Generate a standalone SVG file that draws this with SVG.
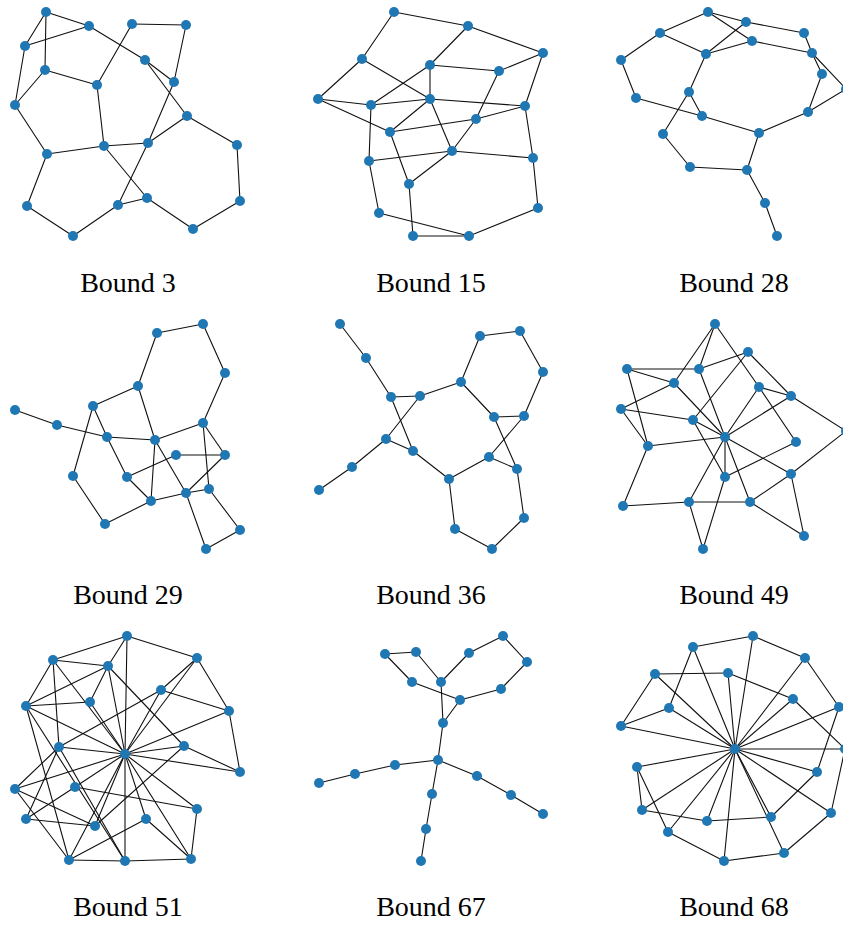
<svg xmlns="http://www.w3.org/2000/svg" width="843" height="925" viewBox="0 0 843 925">
<style>
.edges line{stroke:#111;stroke-width:1.1;stroke-linecap:round}
.node circle{fill:#1f77b4}
.lbl{font-family:"Liberation Serif","DejaVu Serif",serif;font-size:28px;fill:#000;text-anchor:middle}
</style>
<rect width="843" height="925" fill="#fff"/>
<!-- Panel 1 -->
<g id="edges-p1" class="edges">
<line x1="46" y1="12" x2="89" y2="26"/><line x1="46" y1="12" x2="25" y2="46"/><line x1="46" y1="12" x2="45" y2="70"/>
<line x1="25" y1="46" x2="89" y2="26"/><line x1="25" y1="46" x2="15" y2="105"/><line x1="45" y1="70" x2="15" y2="105"/>
<line x1="45" y1="70" x2="97" y2="85"/><line x1="89" y1="26" x2="145" y2="60"/><line x1="145" y1="60" x2="174" y2="82"/>
<line x1="145" y1="60" x2="187" y2="116"/><line x1="132" y1="24" x2="186" y2="25"/><line x1="132" y1="24" x2="97" y2="85"/>
<line x1="186" y1="25" x2="174" y2="82"/><line x1="174" y1="82" x2="148" y2="143"/><line x1="148" y1="143" x2="118" y2="205"/>
<line x1="15" y1="105" x2="47" y2="154"/><line x1="47" y1="154" x2="104" y2="146"/><line x1="104" y1="146" x2="148" y2="143"/>
<line x1="104" y1="146" x2="97" y2="85"/><line x1="104" y1="146" x2="147" y2="198"/><line x1="148" y1="143" x2="187" y2="116"/>
<line x1="187" y1="116" x2="237" y2="145"/><line x1="237" y1="145" x2="240" y2="201"/><line x1="240" y1="201" x2="193" y2="229"/>
<line x1="193" y1="229" x2="147" y2="198"/><line x1="147" y1="198" x2="118" y2="205"/><line x1="118" y1="205" x2="73" y2="236"/>
<line x1="73" y1="236" x2="27" y2="206"/><line x1="27" y1="206" x2="47" y2="154"/>
</g>
<g id="nodes-p1" class="node">
<g id="p1-a"><circle cx="46" cy="12" r="5"/></g><g id="p1-b"><circle cx="89" cy="26" r="5"/></g><g id="p1-c"><circle cx="25" cy="46" r="5"/></g>
<g id="p1-d"><circle cx="45" cy="70" r="5"/></g><g id="p1-e"><circle cx="132" cy="24" r="5"/></g><g id="p1-f"><circle cx="186" cy="25" r="5"/></g>
<g id="p1-g"><circle cx="145" cy="60" r="5"/></g><g id="p1-h"><circle cx="174" cy="82" r="5"/></g><g id="p1-i"><circle cx="97" cy="85" r="5"/></g>
<g id="p1-j"><circle cx="15" cy="105" r="5"/></g><g id="p1-k"><circle cx="187" cy="116" r="5"/></g><g id="p1-l"><circle cx="237" cy="145" r="5"/></g>
<g id="p1-m"><circle cx="47" cy="154" r="5"/></g><g id="p1-n"><circle cx="104" cy="146" r="5"/></g><g id="p1-o"><circle cx="148" cy="143" r="5"/></g>
<g id="p1-p"><circle cx="27" cy="206" r="5"/></g><g id="p1-q"><circle cx="118" cy="205" r="5"/></g><g id="p1-r"><circle cx="147" cy="198" r="5"/></g>
<g id="p1-s"><circle cx="240" cy="201" r="5"/></g><g id="p1-t"><circle cx="73" cy="236" r="5"/></g><g id="p1-u"><circle cx="193" cy="229" r="5"/></g>
</g>
<text class="lbl" x="128" y="292">Bound 3</text>
<!-- Panel 2 -->
<g id="edges-p2" class="edges">
<line x1="394" y1="12" x2="468" y2="26"/><line x1="394" y1="12" x2="362" y2="59"/><line x1="468" y1="26" x2="543" y2="53"/>
<line x1="468" y1="26" x2="430" y2="65"/><line x1="430" y1="65" x2="371" y2="105"/><line x1="430" y1="65" x2="499" y2="71"/>
<line x1="430" y1="65" x2="430" y2="99"/><line x1="499" y1="71" x2="543" y2="53"/><line x1="499" y1="71" x2="476" y2="119"/>
<line x1="543" y1="53" x2="525" y2="106"/><line x1="362" y1="59" x2="318" y2="99"/><line x1="362" y1="59" x2="430" y2="99"/>
<line x1="318" y1="99" x2="371" y2="105"/><line x1="318" y1="99" x2="390" y2="132"/><line x1="371" y1="105" x2="430" y2="99"/>
<line x1="430" y1="99" x2="525" y2="106"/><line x1="371" y1="105" x2="369" y2="161"/><line x1="430" y1="99" x2="390" y2="132"/>
<line x1="430" y1="99" x2="452" y2="151"/><line x1="390" y1="132" x2="476" y2="119"/><line x1="476" y1="119" x2="525" y2="106"/>
<line x1="476" y1="119" x2="452" y2="151"/><line x1="390" y1="132" x2="409" y2="184"/><line x1="452" y1="151" x2="409" y2="184"/>
<line x1="369" y1="161" x2="452" y2="151"/><line x1="452" y1="151" x2="533" y2="158"/><line x1="369" y1="161" x2="379" y2="213"/>
<line x1="525" y1="106" x2="533" y2="158"/><line x1="533" y1="158" x2="538" y2="208"/><line x1="538" y1="208" x2="469" y2="236"/>
<line x1="379" y1="213" x2="469" y2="236"/><line x1="413" y1="236" x2="469" y2="236"/><line x1="409" y1="184" x2="413" y2="236"/>
</g>
<g id="nodes-p2" class="node">
<g id="p2-a"><circle cx="394" cy="12" r="5"/></g><g id="p2-b"><circle cx="468" cy="26" r="5"/></g><g id="p2-c"><circle cx="543" cy="53" r="5"/></g>
<g id="p2-d"><circle cx="362" cy="59" r="5"/></g><g id="p2-e"><circle cx="430" cy="65" r="5"/></g><g id="p2-f"><circle cx="499" cy="71" r="5"/></g>
<g id="p2-g"><circle cx="318" cy="99" r="5"/></g><g id="p2-h"><circle cx="371" cy="105" r="5"/></g><g id="p2-i"><circle cx="430" cy="99" r="5"/></g>
<g id="p2-j"><circle cx="525" cy="106" r="5"/></g><g id="p2-k"><circle cx="476" cy="119" r="5"/></g><g id="p2-l"><circle cx="390" cy="132" r="5"/></g>
<g id="p2-m"><circle cx="452" cy="151" r="5"/></g><g id="p2-n"><circle cx="369" cy="161" r="5"/></g><g id="p2-o"><circle cx="533" cy="158" r="5"/></g>
<g id="p2-p"><circle cx="409" cy="184" r="5"/></g><g id="p2-q"><circle cx="379" cy="213" r="5"/></g><g id="p2-r"><circle cx="538" cy="208" r="5"/></g>
<g id="p2-s"><circle cx="413" cy="236" r="5"/></g><g id="p2-t"><circle cx="469" cy="236" r="5"/></g>
</g>
<text class="lbl" x="431" y="292">Bound 15</text>
<!-- Panel 3 -->
<g id="edges-p3" class="edges">
<line x1="708" y1="12" x2="660" y2="33"/><line x1="708" y1="12" x2="746" y2="22"/><line x1="708" y1="12" x2="752" y2="41"/>
<line x1="746" y1="22" x2="804" y2="33"/><line x1="746" y1="22" x2="706" y2="54"/><line x1="804" y1="33" x2="812" y2="53"/>
<line x1="660" y1="33" x2="706" y2="54"/><line x1="660" y1="33" x2="621" y2="60"/><line x1="621" y1="60" x2="636" y2="98"/>
<line x1="706" y1="54" x2="752" y2="41"/><line x1="752" y1="41" x2="812" y2="53"/><line x1="812" y1="53" x2="822" y2="74"/>
<line x1="812" y1="53" x2="846" y2="89"/><line x1="822" y1="74" x2="808" y2="112"/><line x1="846" y1="89" x2="808" y2="112"/>
<line x1="808" y1="112" x2="759" y2="133"/><line x1="706" y1="54" x2="689" y2="92"/><line x1="689" y1="92" x2="702" y2="116"/>
<line x1="689" y1="92" x2="663" y2="134"/><line x1="636" y1="98" x2="702" y2="116"/><line x1="702" y1="116" x2="759" y2="133"/>
<line x1="759" y1="133" x2="747" y2="170"/><line x1="663" y1="134" x2="690" y2="167"/><line x1="690" y1="167" x2="747" y2="170"/>
<line x1="747" y1="170" x2="765" y2="203"/><line x1="765" y1="203" x2="777" y2="236"/>
</g>
<g id="nodes-p3" class="node">
<g id="p3-a"><circle cx="708" cy="12" r="5"/></g><g id="p3-b"><circle cx="746" cy="22" r="5"/></g><g id="p3-c"><circle cx="804" cy="33" r="5"/></g>
<g id="p3-d"><circle cx="660" cy="33" r="5"/></g><g id="p3-e"><circle cx="752" cy="41" r="5"/></g><g id="p3-f"><circle cx="812" cy="53" r="5"/></g>
<g id="p3-g"><circle cx="706" cy="54" r="5"/></g><g id="p3-h"><circle cx="621" cy="60" r="5"/></g><g id="p3-i"><circle cx="822" cy="74" r="5"/></g>
<g id="p3-j"><circle cx="846" cy="89" r="5"/></g><g id="p3-k"><circle cx="689" cy="92" r="5"/></g><g id="p3-l"><circle cx="636" cy="98" r="5"/></g>
<g id="p3-m"><circle cx="808" cy="112" r="5"/></g><g id="p3-n"><circle cx="702" cy="116" r="5"/></g><g id="p3-o"><circle cx="759" cy="133" r="5"/></g>
<g id="p3-p"><circle cx="663" cy="134" r="5"/></g><g id="p3-q"><circle cx="690" cy="167" r="5"/></g><g id="p3-r"><circle cx="747" cy="170" r="5"/></g>
<g id="p3-s"><circle cx="765" cy="203" r="5"/></g><g id="p3-t"><circle cx="777" cy="236" r="5"/></g>
</g>
<text class="lbl" x="734" y="292">Bound 28</text>
<!-- Panel 4 -->
<g id="edges-p4" class="edges">
<line x1="203" y1="324" x2="157" y2="333"/><line x1="203" y1="324" x2="225" y2="373"/><line x1="157" y1="333" x2="138" y2="386"/>
<line x1="225" y1="373" x2="203" y2="423"/><line x1="138" y1="386" x2="93" y2="406"/><line x1="138" y1="386" x2="155" y2="440"/>
<line x1="15" y1="410" x2="57" y2="425"/><line x1="57" y1="425" x2="107" y2="437"/><line x1="93" y1="406" x2="107" y2="437"/>
<line x1="93" y1="406" x2="73" y2="476"/><line x1="107" y1="437" x2="155" y2="440"/><line x1="155" y1="440" x2="203" y2="423"/>
<line x1="107" y1="437" x2="127" y2="477"/><line x1="155" y1="440" x2="151" y2="501"/><line x1="155" y1="440" x2="186" y2="493"/>
<line x1="176" y1="455" x2="225" y2="455"/><line x1="176" y1="455" x2="127" y2="477"/><line x1="127" y1="477" x2="151" y2="501"/>
<line x1="203" y1="423" x2="225" y2="455"/><line x1="203" y1="423" x2="209" y2="489"/><line x1="225" y1="455" x2="186" y2="493"/>
<line x1="151" y1="501" x2="186" y2="493"/><line x1="186" y1="493" x2="209" y2="489"/><line x1="73" y1="476" x2="105" y2="524"/>
<line x1="105" y1="524" x2="151" y2="501"/><line x1="209" y1="489" x2="240" y2="530"/><line x1="240" y1="530" x2="206" y2="549"/>
<line x1="186" y1="493" x2="206" y2="549"/>
</g>
<g id="nodes-p4" class="node">
<g id="p4-a"><circle cx="203" cy="324" r="5"/></g><g id="p4-b"><circle cx="157" cy="333" r="5"/></g><g id="p4-c"><circle cx="225" cy="373" r="5"/></g>
<g id="p4-d"><circle cx="138" cy="386" r="5"/></g><g id="p4-e"><circle cx="93" cy="406" r="5"/></g><g id="p4-f"><circle cx="15" cy="410" r="5"/></g>
<g id="p4-g"><circle cx="57" cy="425" r="5"/></g><g id="p4-h"><circle cx="203" cy="423" r="5"/></g><g id="p4-i"><circle cx="107" cy="437" r="5"/></g>
<g id="p4-j"><circle cx="155" cy="440" r="5"/></g><g id="p4-k"><circle cx="176" cy="455" r="5"/></g><g id="p4-l"><circle cx="225" cy="455" r="5"/></g>
<g id="p4-m"><circle cx="73" cy="476" r="5"/></g><g id="p4-n"><circle cx="127" cy="477" r="5"/></g><g id="p4-o"><circle cx="209" cy="489" r="5"/></g>
<g id="p4-p"><circle cx="186" cy="493" r="5"/></g><g id="p4-q"><circle cx="151" cy="501" r="5"/></g><g id="p4-r"><circle cx="105" cy="524" r="5"/></g>
<g id="p4-s"><circle cx="240" cy="530" r="5"/></g><g id="p4-t"><circle cx="206" cy="549" r="5"/></g>
</g>
<text class="lbl" x="128" y="604">Bound 29</text>
<!-- Panel 5 -->
<g id="edges-p5" class="edges">
<line x1="340" y1="324" x2="366" y2="358"/><line x1="366" y1="358" x2="391" y2="397"/><line x1="391" y1="397" x2="420" y2="396"/>
<line x1="391" y1="397" x2="413" y2="451"/><line x1="420" y1="396" x2="461" y2="382"/><line x1="420" y1="396" x2="386" y2="439"/>
<line x1="386" y1="439" x2="413" y2="451"/><line x1="386" y1="439" x2="352" y2="467"/><line x1="352" y1="467" x2="319" y2="490"/>
<line x1="461" y1="382" x2="480" y2="336"/><line x1="480" y1="336" x2="520" y2="331"/><line x1="520" y1="331" x2="543" y2="372"/>
<line x1="543" y1="372" x2="524" y2="416"/><line x1="461" y1="382" x2="494" y2="417"/><line x1="494" y1="417" x2="524" y2="416"/>
<line x1="494" y1="417" x2="517" y2="469"/><line x1="524" y1="416" x2="489" y2="457"/><line x1="489" y1="457" x2="517" y2="469"/>
<line x1="489" y1="457" x2="449" y2="479"/><line x1="413" y1="451" x2="449" y2="479"/><line x1="449" y1="479" x2="455" y2="529"/>
<line x1="455" y1="529" x2="492" y2="549"/><line x1="492" y1="549" x2="524" y2="518"/><line x1="524" y1="518" x2="517" y2="469"/>
</g>
<g id="nodes-p5" class="node">
<g id="p5-a"><circle cx="340" cy="324" r="5"/></g><g id="p5-b"><circle cx="366" cy="358" r="5"/></g><g id="p5-c"><circle cx="480" cy="336" r="5"/></g>
<g id="p5-d"><circle cx="520" cy="331" r="5"/></g><g id="p5-e"><circle cx="543" cy="372" r="5"/></g><g id="p5-f"><circle cx="461" cy="382" r="5"/></g>
<g id="p5-g"><circle cx="391" cy="397" r="5"/></g><g id="p5-h"><circle cx="420" cy="396" r="5"/></g><g id="p5-i"><circle cx="494" cy="417" r="5"/></g>
<g id="p5-j"><circle cx="524" cy="416" r="5"/></g><g id="p5-k"><circle cx="386" cy="439" r="5"/></g><g id="p5-l"><circle cx="413" cy="451" r="5"/></g>
<g id="p5-m"><circle cx="489" cy="457" r="5"/></g><g id="p5-n"><circle cx="517" cy="469" r="5"/></g><g id="p5-o"><circle cx="352" cy="467" r="5"/></g>
<g id="p5-p"><circle cx="449" cy="479" r="5"/></g><g id="p5-q"><circle cx="319" cy="490" r="5"/></g><g id="p5-r"><circle cx="524" cy="518" r="5"/></g>
<g id="p5-s"><circle cx="455" cy="529" r="5"/></g><g id="p5-t"><circle cx="492" cy="549" r="5"/></g>
</g>
<text class="lbl" x="431" y="604">Bound 36</text>
<!-- Panel 6 -->
<g id="edges-p6" class="edges">
<line x1="715" y1="324" x2="699" y2="369"/><line x1="715" y1="324" x2="674" y2="383"/><line x1="715" y1="324" x2="759" y2="387"/>
<line x1="748" y1="352" x2="699" y2="369"/><line x1="748" y1="352" x2="693" y2="420"/><line x1="748" y1="352" x2="791" y2="396"/>
<line x1="627" y1="369" x2="699" y2="369"/><line x1="627" y1="369" x2="674" y2="383"/><line x1="627" y1="369" x2="648" y2="446"/>
<line x1="674" y1="383" x2="621" y2="409"/><line x1="674" y1="383" x2="725" y2="437"/><line x1="699" y1="369" x2="725" y2="437"/>
<line x1="621" y1="409" x2="693" y2="420"/><line x1="621" y1="409" x2="648" y2="446"/><line x1="693" y1="420" x2="725" y2="437"/>
<line x1="693" y1="420" x2="725" y2="477"/><line x1="759" y1="387" x2="791" y2="396"/><line x1="759" y1="387" x2="725" y2="437"/>
<line x1="759" y1="387" x2="796" y2="442"/><line x1="791" y1="396" x2="725" y2="437"/><line x1="791" y1="396" x2="846" y2="431"/>
<line x1="725" y1="437" x2="648" y2="446"/><line x1="725" y1="437" x2="725" y2="477"/><line x1="725" y1="437" x2="791" y2="474"/>
<line x1="725" y1="437" x2="750" y2="502"/><line x1="725" y1="437" x2="689" y2="502"/><line x1="846" y1="431" x2="791" y2="474"/>
<line x1="796" y1="442" x2="725" y2="477"/><line x1="648" y1="446" x2="623" y2="506"/><line x1="623" y1="506" x2="689" y2="502"/>
<line x1="689" y1="502" x2="750" y2="502"/><line x1="689" y1="502" x2="703" y2="549"/><line x1="725" y1="477" x2="703" y2="549"/>
<line x1="750" y1="502" x2="791" y2="474"/><line x1="750" y1="502" x2="804" y2="536"/><line x1="791" y1="474" x2="804" y2="536"/>
</g>
<g id="nodes-p6" class="node">
<g id="p6-a"><circle cx="715" cy="324" r="5"/></g><g id="p6-b"><circle cx="748" cy="352" r="5"/></g><g id="p6-c"><circle cx="627" cy="369" r="5"/></g>
<g id="p6-d"><circle cx="699" cy="369" r="5"/></g><g id="p6-e"><circle cx="674" cy="383" r="5"/></g><g id="p6-f"><circle cx="759" cy="387" r="5"/></g>
<g id="p6-g"><circle cx="791" cy="396" r="5"/></g><g id="p6-h"><circle cx="621" cy="409" r="5"/></g><g id="p6-i"><circle cx="693" cy="420" r="5"/></g>
<g id="p6-j"><circle cx="725" cy="437" r="5"/></g><g id="p6-k"><circle cx="846" cy="431" r="5"/></g><g id="p6-l"><circle cx="796" cy="442" r="5"/></g>
<g id="p6-m"><circle cx="648" cy="446" r="5"/></g><g id="p6-n"><circle cx="725" cy="477" r="5"/></g><g id="p6-o"><circle cx="791" cy="474" r="5"/></g>
<g id="p6-p"><circle cx="623" cy="506" r="5"/></g><g id="p6-q"><circle cx="689" cy="502" r="5"/></g><g id="p6-r"><circle cx="750" cy="502" r="5"/></g>
<g id="p6-s"><circle cx="804" cy="536" r="5"/></g><g id="p6-t"><circle cx="703" cy="549" r="5"/></g>
</g>
<text class="lbl" x="734" y="604">Bound 49</text>
<!-- Panel 7 -->
<g id="edges-p7" class="edges">
<line x1="127" y1="636" x2="197" y2="658"/><line x1="127" y1="636" x2="53" y2="660"/><line x1="127" y1="636" x2="108" y2="666"/>
<line x1="127" y1="636" x2="125" y2="754"/><line x1="125" y1="754" x2="125" y2="861"/>
<line x1="197" y1="658" x2="229" y2="711"/><line x1="197" y1="658" x2="161" y2="690"/><line x1="197" y1="658" x2="125" y2="754"/>
<line x1="53" y1="660" x2="108" y2="666"/><line x1="53" y1="660" x2="26" y2="706"/><line x1="53" y1="660" x2="59" y2="747"/>
<line x1="53" y1="660" x2="125" y2="754"/><line x1="108" y1="666" x2="90" y2="702"/><line x1="108" y1="666" x2="26" y2="706"/>
<line x1="108" y1="666" x2="125" y2="754"/><line x1="108" y1="666" x2="184" y2="746"/><line x1="161" y1="690" x2="229" y2="711"/>
<line x1="161" y1="690" x2="59" y2="747"/><line x1="161" y1="690" x2="125" y2="754"/><line x1="90" y1="702" x2="26" y2="706"/>
<line x1="90" y1="702" x2="125" y2="754"/><line x1="26" y1="706" x2="125" y2="754"/><line x1="26" y1="706" x2="69" y2="860"/>
<line x1="26" y1="706" x2="125" y2="861"/><line x1="229" y1="711" x2="125" y2="754"/><line x1="229" y1="711" x2="240" y2="772"/>
<line x1="59" y1="747" x2="125" y2="754"/><line x1="59" y1="747" x2="15" y2="789"/><line x1="59" y1="747" x2="26" y2="819"/>
<line x1="59" y1="747" x2="125" y2="861"/><line x1="184" y1="746" x2="125" y2="754"/><line x1="184" y1="746" x2="240" y2="772"/>
<line x1="184" y1="746" x2="95" y2="826"/><line x1="125" y1="754" x2="240" y2="772"/><line x1="125" y1="754" x2="15" y2="789"/>
<line x1="125" y1="754" x2="75" y2="787"/><line x1="125" y1="754" x2="197" y2="809"/><line x1="125" y1="754" x2="95" y2="826"/>
<line x1="125" y1="754" x2="146" y2="819"/><line x1="125" y1="754" x2="69" y2="860"/><line x1="125" y1="754" x2="191" y2="859"/>
<line x1="15" y1="789" x2="95" y2="826"/><line x1="15" y1="789" x2="69" y2="860"/><line x1="75" y1="787" x2="26" y2="819"/>
<line x1="75" y1="787" x2="197" y2="809"/><line x1="26" y1="819" x2="95" y2="826"/><line x1="146" y1="819" x2="69" y2="860"/>
<line x1="146" y1="819" x2="191" y2="859"/><line x1="197" y1="809" x2="191" y2="859"/><line x1="69" y1="860" x2="125" y2="861"/>
<line x1="125" y1="861" x2="191" y2="859"/>
</g>
<g id="nodes-p7" class="node">
<g id="p7-a"><circle cx="127" cy="636" r="5"/></g><g id="p7-b"><circle cx="197" cy="658" r="5"/></g><g id="p7-c"><circle cx="53" cy="660" r="5"/></g>
<g id="p7-d"><circle cx="108" cy="666" r="5"/></g><g id="p7-e"><circle cx="161" cy="690" r="5"/></g><g id="p7-f"><circle cx="90" cy="702" r="5"/></g>
<g id="p7-g"><circle cx="26" cy="706" r="5"/></g><g id="p7-h"><circle cx="229" cy="711" r="5"/></g><g id="p7-i"><circle cx="59" cy="747" r="5"/></g>
<g id="p7-j"><circle cx="184" cy="746" r="5"/></g><g id="p7-k"><circle cx="125" cy="754" r="5"/></g><g id="p7-l"><circle cx="240" cy="772" r="5"/></g>
<g id="p7-m"><circle cx="15" cy="789" r="5"/></g><g id="p7-n"><circle cx="75" cy="787" r="5"/></g><g id="p7-o"><circle cx="197" cy="809" r="5"/></g>
<g id="p7-p"><circle cx="26" cy="819" r="5"/></g><g id="p7-q"><circle cx="95" cy="826" r="5"/></g><g id="p7-r"><circle cx="146" cy="819" r="5"/></g>
<g id="p7-s"><circle cx="69" cy="860" r="5"/></g><g id="p7-t"><circle cx="125" cy="861" r="5"/></g><g id="p7-u"><circle cx="191" cy="859" r="5"/></g>
</g>
<text class="lbl" x="128" y="916">Bound 51</text>
<!-- Panel 8 -->
<g id="edges-p8" class="edges">
<line x1="385" y1="654" x2="416" y2="652"/><line x1="385" y1="654" x2="412" y2="682"/><line x1="416" y1="652" x2="441" y2="682"/>
<line x1="412" y1="682" x2="460" y2="700"/><line x1="469" y1="653" x2="441" y2="682"/><line x1="469" y1="653" x2="503" y2="636"/>
<line x1="503" y1="636" x2="527" y2="662"/><line x1="527" y1="662" x2="501" y2="689"/><line x1="501" y1="689" x2="460" y2="700"/>
<line x1="441" y1="682" x2="443" y2="723"/><line x1="460" y1="700" x2="443" y2="723"/><line x1="443" y1="723" x2="438" y2="760"/>
<line x1="438" y1="760" x2="395" y2="765"/><line x1="395" y1="765" x2="355" y2="774"/><line x1="355" y1="774" x2="319" y2="783"/>
<line x1="438" y1="760" x2="477" y2="776"/><line x1="477" y1="776" x2="511" y2="795"/><line x1="511" y1="795" x2="543" y2="814"/>
<line x1="438" y1="760" x2="432" y2="794"/><line x1="432" y1="794" x2="426" y2="829"/><line x1="426" y1="829" x2="421" y2="861"/>
</g>
<g id="nodes-p8" class="node">
<g id="p8-a"><circle cx="503" cy="636" r="5"/></g><g id="p8-b"><circle cx="385" cy="654" r="5"/></g><g id="p8-c"><circle cx="416" cy="652" r="5"/></g>
<g id="p8-d"><circle cx="469" cy="653" r="5"/></g><g id="p8-e"><circle cx="527" cy="662" r="5"/></g><g id="p8-f"><circle cx="412" cy="682" r="5"/></g>
<g id="p8-g"><circle cx="441" cy="682" r="5"/></g><g id="p8-h"><circle cx="501" cy="689" r="5"/></g><g id="p8-i"><circle cx="460" cy="700" r="5"/></g>
<g id="p8-j"><circle cx="443" cy="723" r="5"/></g><g id="p8-k"><circle cx="438" cy="760" r="5"/></g><g id="p8-l"><circle cx="395" cy="765" r="5"/></g>
<g id="p8-m"><circle cx="355" cy="774" r="5"/></g><g id="p8-n"><circle cx="319" cy="783" r="5"/></g><g id="p8-o"><circle cx="477" cy="776" r="5"/></g>
<g id="p8-p"><circle cx="432" cy="794" r="5"/></g><g id="p8-q"><circle cx="511" cy="795" r="5"/></g><g id="p8-r"><circle cx="543" cy="814" r="5"/></g>
<g id="p8-s"><circle cx="426" cy="829" r="5"/></g><g id="p8-t"><circle cx="421" cy="861" r="5"/></g>
</g>
<text class="lbl" x="431" y="916">Bound 67</text>
<!-- Panel 9 -->
<g id="edges-p9" class="edges">
<line x1="693" y1="647" x2="753" y2="636"/><line x1="753" y1="636" x2="805" y2="658"/><line x1="805" y1="658" x2="839" y2="707"/>
<line x1="839" y1="707" x2="817" y2="772"/><line x1="793" y1="699" x2="845" y2="749"/><line x1="845" y1="749" x2="831" y2="813"/>
<line x1="655" y1="674" x2="728" y2="673"/><line x1="728" y1="673" x2="793" y2="699"/><line x1="655" y1="674" x2="621" y2="726"/>
<line x1="621" y1="726" x2="669" y2="708"/><line x1="669" y1="708" x2="693" y2="647"/><line x1="637" y1="767" x2="642" y2="810"/>
<line x1="637" y1="767" x2="668" y2="832"/><line x1="642" y1="810" x2="707" y2="821"/><line x1="707" y1="821" x2="771" y2="817"/>
<line x1="771" y1="817" x2="817" y2="772"/><line x1="668" y1="832" x2="724" y2="861"/><line x1="724" y1="861" x2="784" y2="853"/>
<line x1="784" y1="853" x2="831" y2="813"/>
<line x1="735" y1="749" x2="753" y2="636"/><line x1="735" y1="749" x2="693" y2="647"/><line x1="735" y1="749" x2="805" y2="658"/>
<line x1="735" y1="749" x2="655" y2="674"/><line x1="735" y1="749" x2="728" y2="673"/><line x1="735" y1="749" x2="793" y2="699"/>
<line x1="735" y1="749" x2="839" y2="707"/><line x1="735" y1="749" x2="669" y2="708"/><line x1="735" y1="749" x2="621" y2="726"/>
<line x1="735" y1="749" x2="845" y2="749"/><line x1="735" y1="749" x2="637" y2="767"/><line x1="735" y1="749" x2="817" y2="772"/>
<line x1="735" y1="749" x2="642" y2="810"/><line x1="735" y1="749" x2="707" y2="821"/><line x1="735" y1="749" x2="771" y2="817"/>
<line x1="735" y1="749" x2="831" y2="813"/><line x1="735" y1="749" x2="668" y2="832"/><line x1="735" y1="749" x2="784" y2="853"/>
<line x1="735" y1="749" x2="724" y2="861"/>
</g>
<g id="nodes-p9" class="node">
<g id="p9-a"><circle cx="753" cy="636" r="5"/></g><g id="p9-b"><circle cx="693" cy="647" r="5"/></g><g id="p9-c"><circle cx="805" cy="658" r="5"/></g>
<g id="p9-d"><circle cx="655" cy="674" r="5"/></g><g id="p9-e"><circle cx="728" cy="673" r="5"/></g><g id="p9-f"><circle cx="793" cy="699" r="5"/></g>
<g id="p9-g"><circle cx="839" cy="707" r="5"/></g><g id="p9-h"><circle cx="669" cy="708" r="5"/></g><g id="p9-i"><circle cx="621" cy="726" r="5"/></g>
<g id="p9-j"><circle cx="735" cy="749" r="5"/></g><g id="p9-k"><circle cx="845" cy="749" r="5"/></g><g id="p9-l"><circle cx="637" cy="767" r="5"/></g>
<g id="p9-m"><circle cx="817" cy="772" r="5"/></g><g id="p9-n"><circle cx="642" cy="810" r="5"/></g><g id="p9-o"><circle cx="707" cy="821" r="5"/></g>
<g id="p9-p"><circle cx="771" cy="817" r="5"/></g><g id="p9-q"><circle cx="831" cy="813" r="5"/></g><g id="p9-r"><circle cx="668" cy="832" r="5"/></g>
<g id="p9-s"><circle cx="784" cy="853" r="5"/></g><g id="p9-t"><circle cx="724" cy="861" r="5"/></g>
</g>
<text class="lbl" x="734" y="916">Bound 68</text>
</svg>
